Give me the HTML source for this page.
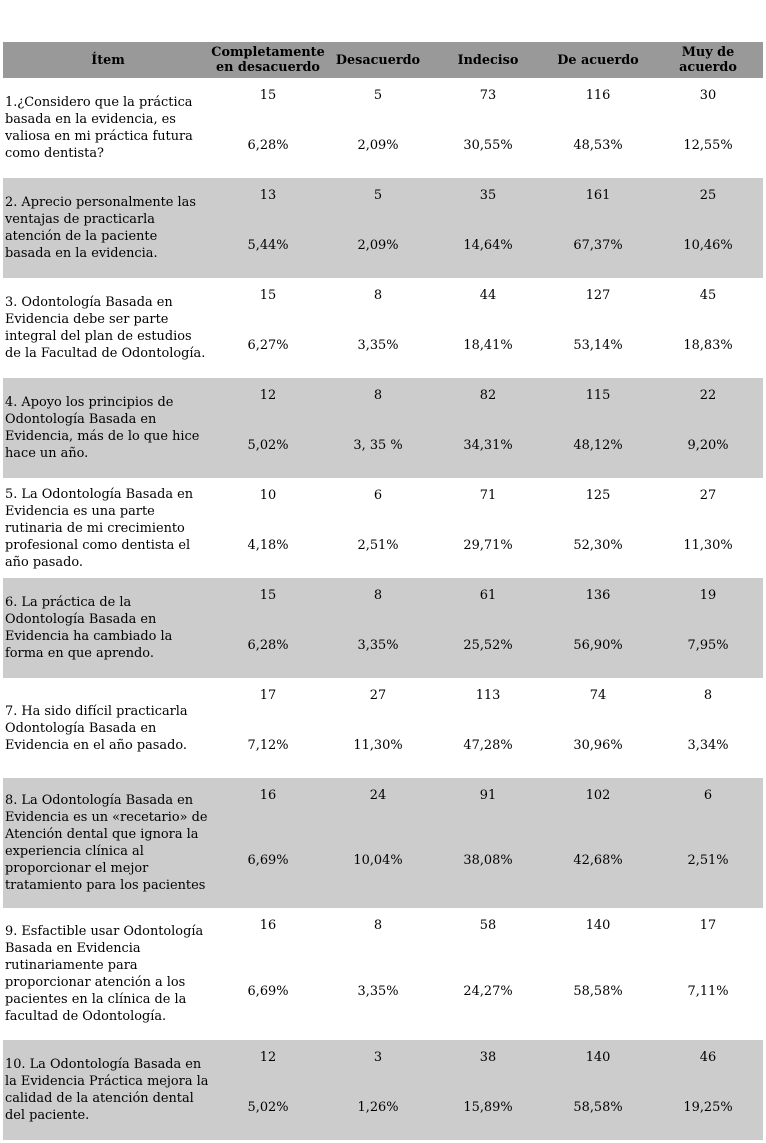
<!DOCTYPE html>
<html><head><meta charset="utf-8"><style>
body{margin:0;width:766px;height:1143px;background:#fff;position:relative;font-family:"DejaVu Serif","Liberation Serif",serif;color:#000;overflow:hidden}
.hdr{position:absolute;left:3px;top:42px;width:760px;height:36px;background:#999}
.h{position:absolute;top:0;height:36px;display:flex;align-items:center;justify-content:center;text-align:center;font-weight:bold;font-size:12.8px;line-height:15px}
.row{position:absolute;left:3px;width:760px}
.g{background:#ccc}
.item{position:absolute;left:2px;top:0;bottom:0;width:208px;display:flex;align-items:center;font-size:12.9px;line-height:17px;white-space:nowrap}
.n,.p{position:absolute;width:110px;text-align:center;font-size:12.9px;line-height:17px}
.n{top:9px}
</style></head><body>
<div class="hdr">
<div class="h" style="left:0;width:210px">Ítem</div>
<div class="h" style="left:210px;width:110px">Completamente<br>en desacuerdo</div>
<div class="h" style="left:320px;width:110px">Desacuerdo</div>
<div class="h" style="left:430px;width:110px">Indeciso</div>
<div class="h" style="left:540px;width:110px">De acuerdo</div>
<div class="h" style="left:650px;width:110px">Muy de<br>acuerdo</div>
</div>
<div id="rows"></div>
<script>
const rowTops=[78,178,278,378,478,578,678,778,908,1040,1140];
const items=["1.¿Considero que la práctica|basada en la evidencia, es|valiosa en mi práctica futura|como dentista?",
"2. Aprecio personalmente las|ventajas de practicarla|atención de la paciente|basada en la evidencia.",
"3. Odontología Basada en|Evidencia debe ser parte|integral del plan de estudios|de la Facultad de Odontología.",
"4. Apoyo los principios de|Odontología Basada en|Evidencia, más de lo que hice|hace un año.",
"5. La Odontología Basada en|Evidencia es una parte|rutinaria de mi crecimiento|profesional como dentista el|año pasado.",
"6. La práctica de la|Odontología Basada en|Evidencia ha cambiado la|forma en que aprendo.",
"7. Ha sido difícil practicarla|Odontología Basada en|Evidencia en el año pasado.",
"8. La Odontología Basada en|Evidencia es un «recetario» de|Atención dental que ignora la|experiencia clínica al|proporcionar el mejor|tratamiento para los pacientes",
"9. Esfactible usar Odontología|Basada en Evidencia|rutinariamente para|proporcionar atención a los|pacientes en la clínica de la|facultad de Odontología.",
"10. La Odontología Basada en|la Evidencia Práctica mejora la|calidad de la atención dental|del paciente."];
const counts=[[15,5,73,116,30],[13,5,35,161,25],[15,8,44,127,45],[12,8,82,115,22],[10,6,71,125,27],[15,8,61,136,19],[17,27,113,74,8],[16,24,91,102,6],[16,8,58,140,17],[12,3,38,140,46]];
const pcts=[["6,28%","2,09%","30,55%","48,53%","12,55%"],["5,44%","2,09%","14,64%","67,37%","10,46%"],["6,27%","3,35%","18,41%","53,14%","18,83%"],["5,02%","3, 35 %","34,31%","48,12%","9,20%"],["4,18%","2,51%","29,71%","52,30%","11,30%"],["6,28%","3,35%","25,52%","56,90%","7,95%"],["7,12%","11,30%","47,28%","30,96%","3,34%"],["6,69%","10,04%","38,08%","42,68%","2,51%"],["6,69%","3,35%","24,27%","58,58%","7,11%"],["5,02%","1,26%","15,89%","58,58%","19,25%"]];
const colKeys=["completely-disagree","disagree","undecided","agree","strongly-agree"];
const root=document.getElementById('rows');
items.forEach((t,i)=>{
 const h=rowTops[i+1]-rowTops[i];
 const r=document.createElement('div');
 r.className='row'+(i%2?' g':'');
 r.style.top=rowTops[i]+'px';r.style.height=h+'px';
 
 
 const it=document.createElement('div');it.className='item';
 const inner=document.createElement('div');
 t.split('|').forEach((line,k)=>{if(k)inner.appendChild(document.createElement('br'));inner.appendChild(document.createTextNode(line));});
 it.appendChild(inner);
 
 
 r.appendChild(it);
 for(let c=0;c<5;c++){
  const n=document.createElement('div');n.className='n';n.style.left=(210+c*110)+'px';n.textContent=counts[i][c];
  
  
  const p=document.createElement('div');p.className='p';p.style.left=(210+c*110)+'px';p.style.top=(h/2+9)+'px';p.textContent=pcts[i][c];
  
  
  r.appendChild(n);r.appendChild(p);
 }
 root.appendChild(r);
});
</script>
</body></html>
